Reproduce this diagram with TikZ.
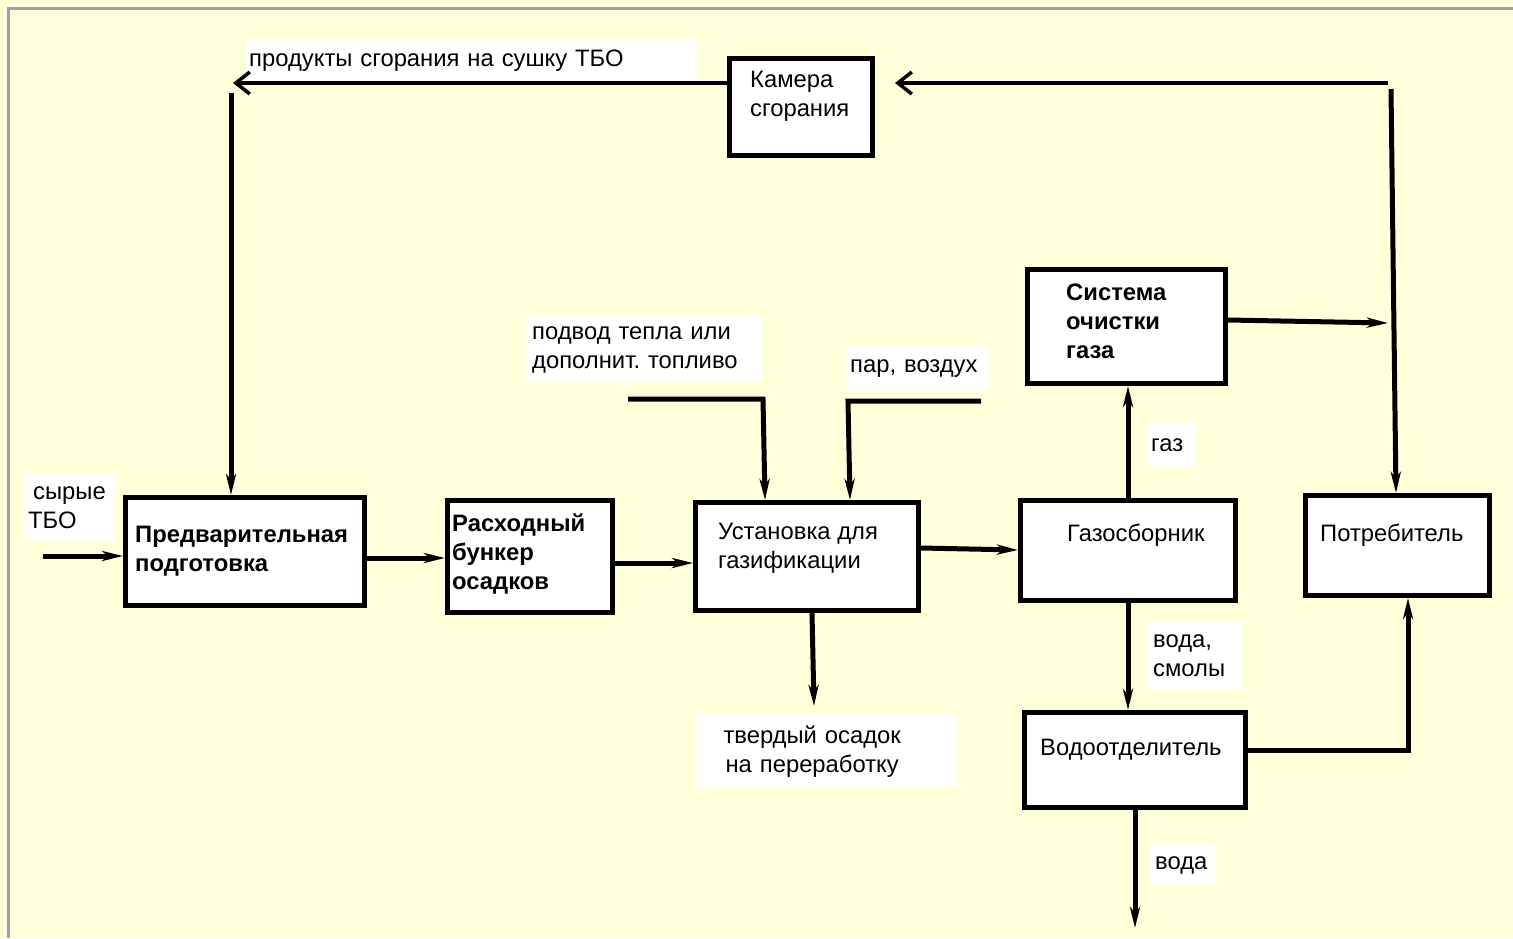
\documentclass[tikz,border=0pt]{standalone}
\usepackage{fontspec}
\setmainfont{Liberation Sans}
\usetikzlibrary{arrows.meta}
\definecolor{bg}{RGB}{255,255,218}
\definecolor{framegray}{RGB}{160,160,160}
\frenchspacing
\begin{document}
\begin{tikzpicture}[x=1pt,y=-1pt,
 box/.style={draw, line width=5pt, fill=white, rectangle, inner sep=0pt},
 txt/.style={font=\fontsize{23.8}{29}\selectfont, align=left, inner sep=0pt, anchor=west},
 btxt/.style={txt, font=\fontsize{23.8}{29}\selectfont\bfseries},
 lbl/.style={fill=white, inner xsep=3pt, inner ysep=0pt, font=\fontsize{23.8}{29}\selectfont, align=left, anchor=north west},
 arr/.style={line width=5pt, -{Stealth[length=21pt,width=10pt,inset=6pt]}},
 oarr/.style={line width=3.5pt, -{Straight Barb[length=14pt,width=22pt]}},
]
\useasboundingbox (0,0) rectangle (1513,938);
\fill[bg] (0,0) rectangle (1513,938);
\draw[framegray, line width=3pt] (8,938) -- (8,8) -- (1513,8);

% boxes
\node[box, minimum width=239pt, minimum height=108pt] (pp) at (245,551.5) {};
\node[box, minimum width=165pt, minimum height=112pt] (rb) at (530,556.5) {};
\node[box, minimum width=223pt, minimum height=108pt] (ust) at (807,556.5) {};
\node[box, minimum width=215pt, minimum height=100pt] (gs) at (1128,550.5) {};
\node[box, minimum width=184pt, minimum height=100pt] (potr) at (1397.5,545.5) {};
\node[box, minimum width=198pt, minimum height=114pt] (sys) at (1126.5,326.5) {};
\node[box, minimum width=143pt, minimum height=97pt] (kam) at (801,107) {};
\node[box, minimum width=221pt, minimum height=95pt] (vo) at (1135,760) {};

% box texts
\node[btxt] (tpp) at (135,551) {Предварительная\\подготовка};
\node[btxt] (trb) at (452,554) {Расходный\\бункер\\осадков};
\node[txt] (tust) at (718,548) {Установка для\\газификации};
\node[txt] (tgs) at (1067,535) {Газосборник};
\node[txt] (tpotr) at (1320,535) {Потребитель};
\node[btxt] (tsys) at (1066,321) {Система\\очистки\\газа};
\node[txt] (tkam) at (750,96) {Камера\\сгорания};
\node[txt] (tvo) at (1040,750) {Водоотделитель};

% labels
\node[lbl, text width=445pt, minimum height=40pt] (lprod) at (246,40) {продукты сгорания на сушку ТБО};
\node[lbl, text width=84pt, minimum height=67pt] (lsyr) at (25,474) {\hspace*{5pt}сырые\\ТБО};
\node[lbl, text width=225pt, minimum height=65pt, inner xsep=5pt] (lheat) at (527,317) {подвод тепла или\\дополнит. топливо};
\node[lbl, text width=136pt, minimum height=45pt] (lpar) at (847,346) {пар, воздух};
\node[lbl, text width=41pt, minimum height=44pt] (lgaz) at (1148,423) {газ};
\node[lbl, text width=84pt, minimum height=68pt, inner xsep=5pt] (lvs) at (1148,622) {вода,\\смолы};
\node[lbl, text width=254pt, minimum height=72pt] (lsol) at (697,715) {\makebox[224pt]{твердый осадок}\\\makebox[224pt]{на переработку}};
\node[lbl, text width=55pt, minimum height=40pt, inner xsep=5pt] (lvoda) at (1150,845) {вода};

% free coordinates
\coordinate (in) at (43,556);
\coordinate (h0) at (628,399);
\coordinate (h1) at (763,399);
\coordinate (s0) at (981,401);
\coordinate (s1) at (848,401);
\coordinate (sd) at (814,706);
\coordinate (wd) at (1135,928);
\coordinate (corner) at (1408,750);
\coordinate (sysout) at (1388,323);
\coordinate (rtop) at (1391,89);
\coordinate (rline) at (1388,83);
\coordinate (ltip) at (233,83);
\coordinate (ltop) at (231,93);

% connectors
\draw[arr] (in) -- ([yshift=-4.5pt]pp.west);
\draw[arr] ([yshift=-6.5pt]pp.east) -- ([yshift=-1.5pt]rb.west);
\draw[arr] ([yshift=-6.5pt]rb.east) -- ([yshift=-6.5pt]ust.west);
\draw[arr] ([yshift=8.5pt]ust.east) -- ([yshift=0.5pt]gs.west);
\draw[arr] (h0) -- (h1) -- ([xshift=-42pt]ust.north);
\draw[arr] (s0) -- (s1) -- ([xshift=43pt]ust.north);
\draw[arr] ([xshift=5pt]ust.south) -- (sd);
\draw[arr] (gs.north) -- (gs.north |- sys.south);
\draw[arr] (gs.south) -- (gs.south |- vo.north);
\draw[arr] (vo.south) -- (wd);
\draw[arr] ([yshift=10pt]vo.east) -- (corner) -- (corner |- potr.south);
\draw[arr] ([yshift=6.5pt]sys.east) -- (sysout);
\draw[arr] (rtop) -- ([xshift=-1.5pt]potr.north);
\draw[oarr] (rline) -- ([xshift=20pt,yshift=24pt]kam.east);
\draw[oarr] ([yshift=24pt]kam.west) -- (ltip);
\draw[arr] (ltop) -- ([xshift=-14pt]pp.north);
\end{tikzpicture}
\end{document}
